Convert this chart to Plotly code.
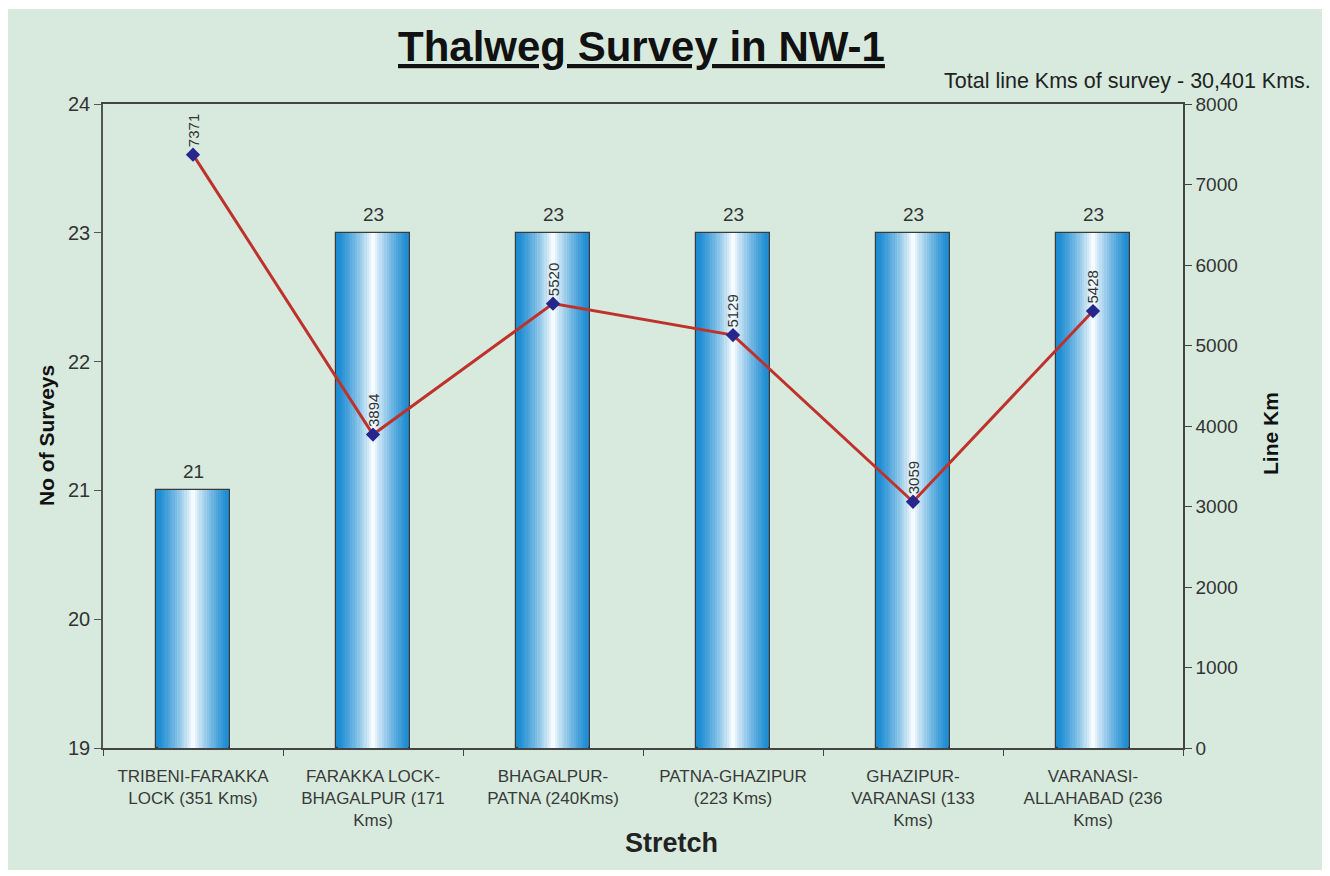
import plotly.graph_objects as go

categories = [
    "TRIBENI-FARAKKA<br>LOCK (351 Kms)",
    "FARAKKA LOCK-<br>BHAGALPUR (171<br>Kms)",
    "BHAGALPUR-<br>PATNA (240Kms)",
    "PATNA-GHAZIPUR<br>(223 Kms)",
    "GHAZIPUR-<br>VARANASI (133<br>Kms)",
    "VARANASI-<br>ALLAHABAD (236<br>Kms)",
]
no_of_surveys = [21, 23, 23, 23, 23, 23]
line_km = [7371, 3894, 5520, 5129, 3059, 5428]
y_left_ticks = [19, 20, 21, 22, 23, 24]
y_right_ticks = [0, 1000, 2000, 3000, 4000, 5000, 6000, 7000, 8000]

FONT = "Liberation Sans, Arial, sans-serif"

# plot-area geometry (figure pixels; page body adds 8px offset)
L, T, PW, PH = 95, 96, 1080, 644
W, H = 1330, 876


def px(x):
    return (x - L) / PW


def py(y):
    return (T + PH - y) / PH


fig = go.Figure()

# smooth horizontal gradient approximated with overlaid bar layers
edge = (27, 139, 210)
centre = (245, 251, 254)
n_layers = 16
full_w = 0.41
for i in range(n_layers):
    t = i / (n_layers - 1)
    w = full_w * (1 - t) + 0.02 * t
    k = t ** 1.3
    col = "rgb(%d,%d,%d)" % tuple(int(edge[j] + (centre[j] - edge[j]) * k) for j in range(3))
    first = i == 0
    fig.add_trace(go.Bar(
        x=categories, y=[v - 19 for v in no_of_surveys], base=19,
        width=w,
        marker=dict(color=col,
                    line=dict(color="#3a3a3a", width=1.2) if first else dict(width=0)),
        hoverinfo="skip",
        showlegend=False,
    ))

fig.add_trace(go.Scatter(
    x=categories, y=line_km, yaxis="y2", mode="lines+markers",
    line=dict(color="#bf322c", width=3),
    marker=dict(symbol="diamond", size=11, color="#26268c"),
    showlegend=False,
))

annotations = []
for c, v in zip(categories, no_of_surveys):
    annotations.append(dict(
        x=c, y=v, xref="x", yref="y", text=str(v),
        showarrow=False, yanchor="bottom", xanchor="center", yshift=6,
        font=dict(size=19, color="#333333", family=FONT),
    ))
for c, v in zip(categories, line_km):
    annotations.append(dict(
        x=c, y=v, xref="x", yref="y2", text=str(v), textangle=-90,
        showarrow=False, yanchor="bottom", xanchor="center", yshift=5,
        font=dict(size=15, color="#333333", family=FONT),
    ))

annotations += [
    dict(text="<b><u>Thalweg Survey in NW-1</u></b>", xref="paper", yref="paper",
         x=px(633), y=py(38), showarrow=False,
         xanchor="center", yanchor="middle",
         font=dict(size=42, color="#111111", family=FONT)),
    dict(text="Total line Kms of survey - 30,401 Kms.", xref="paper", yref="paper",
         x=px(1305), y=py(73), showarrow=False,
         xanchor="right", yanchor="middle",
         font=dict(size=21.5, color="#222222", family=FONT)),
    dict(text="<b>Stretch</b>", xref="paper", yref="paper",
         x=px(663), y=py(835), showarrow=False,
         xanchor="center", yanchor="middle",
         font=dict(size=27, color="#222222", family=FONT)),
    dict(text="<b>No of Surveys</b>", xref="paper", yref="paper", textangle=-90,
         x=px(38), y=py(428), showarrow=False,
         xanchor="center", yanchor="middle",
         font=dict(size=21, color="#111111", family=FONT)),
    dict(text="<b>Line Km</b>", xref="paper", yref="paper", textangle=-90,
         x=px(1262), y=py(426), showarrow=False,
         xanchor="center", yanchor="middle",
         font=dict(size=21, color="#111111", family=FONT)),
]

fig.update_layout(
    width=W, height=H,
    margin=dict(l=L, r=W - L - PW, t=T, b=H - T - PH),
    paper_bgcolor="white",
    plot_bgcolor="#fbd2c1",
    barmode="overlay",
    bargap=0,
    annotations=annotations,
    shapes=[dict(type="rect", xref="paper", yref="paper",
                 x0=px(-2), x1=px(1316),
                 y0=py(862), y1=py(1),
                 fillcolor="#d7eadd", line=dict(width=0), layer="below")],
    xaxis=dict(
        type="category", showline=True, linecolor="#444444", linewidth=1.5,
        mirror=True, ticks="outside", tickson="boundaries", ticklen=6,
        tickcolor="#444444", ticklabelstandoff=12,
        tickfont=dict(size=17, color="#3a3a3a", family=FONT),
    ),
    yaxis=dict(
        range=[19, 24], tickvals=y_left_ticks, showgrid=False,
        showline=True, linecolor="#555555", linewidth=1.5, ticks="outside",
        ticklen=7, tickcolor="#555555",
        tickfont=dict(size=20, color="#333333", family=FONT),
        zeroline=False,
    ),
    yaxis2=dict(
        range=[0, 8000], tickvals=y_right_ticks, overlaying="y", side="right",
        showgrid=False, showline=True, linecolor="#444444", linewidth=1.5,
        ticks="outside", ticklen=7, tickcolor="#444444",
        tickfont=dict(size=19, color="#333333", family=FONT),
        zeroline=False,
    ),
)

fig.write_html("out.html")
